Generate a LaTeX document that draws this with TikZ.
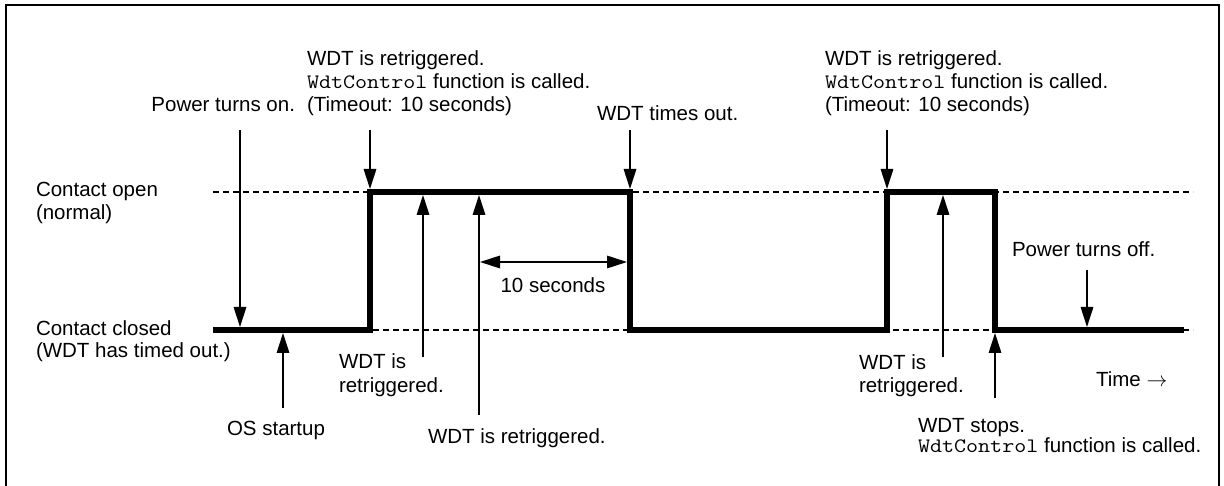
\documentclass[tikz,border=0pt]{standalone}
\usepackage{fontspec}
\usepackage{graphicx}
\setmainfont{Liberation Sans}
\usetikzlibrary{arrows.meta}
\newcommand\wdcname{\scalebox{1.14}[1]{\ttfamily WdtControl}}
\begin{document}
\begin{tikzpicture}[x=1pt,y=-1pt,
  lbl/.style={inner sep=0pt, outer sep=0pt, font=\fontsize{20.5}{23}\selectfont},
  sig/.style={line width=5.5pt, line join=miter},
  refline/.style={line width=1.3pt, dash pattern=on 6pt off 4pt},
  ptr/.style={line width=1.6pt, -{Triangle[length=20pt,width=12.5pt]}},
  dptr/.style={line width=1.6pt, {Triangle[length=20pt,width=12.5pt]}-{Triangle[length=20pt,width=12.5pt]}},
  frame/.style={line width=1.5pt}
]
\useasboundingbox (0,0) rectangle (1224,486);
% frame (open at the bottom)
\coordinate (fbl) at (6,486);
\coordinate (ftl) at (6,5);
\coordinate (ftr) at (1219,5);
\coordinate (fbr) at (1219,486);
\draw[frame] (fbl) -- (ftl) -- (ftr) -- (fbr);

% reference levels
\coordinate (ol) at (213,192); \coordinate (or) at (1193,192);
\coordinate (cl) at (213,330); \coordinate (cr) at (1193,330);
\draw[refline] (ol) -- (or);
\draw[refline] (cl) -- (cr);

% signal
\coordinate (s0) at (213,330);
\coordinate (s1) at (370,330);
\coordinate (s2) at (370,192);
\coordinate (s3) at (630,192);
\coordinate (s4) at (630,330);
\coordinate (s5) at (887,330);
\coordinate (s6) at (887,192);
\coordinate (s7) at (995,192);
\coordinate (s8) at (995,330);
\coordinate (s9) at (1184,330);
\draw[sig] (s0) -- (s1) -- (s2) -- (s3) -- (s4) -- (s5) -- (s6) -- (s7) -- (s8) -- (s9);

% level labels
\node[lbl, anchor=base west] (lopen1) at (36,197) {Contact open};
\node[lbl, anchor=base west] (lopen2) at (36,220) {(normal)};
\node[lbl, anchor=base west] (lclosed1) at (36,336) {Contact closed};
\node[lbl, anchor=base west] (lclosed2) at (36,358) {(WDT has timed out.)};

% top labels
\node[lbl, anchor=base east] (pon) at (295,112) {Power turns on.};
\node[lbl, anchor=base west] (rt1a) at (307,66) {WDT is retriggered.};
\node[lbl, anchor=base west] (rt1b) at (307,89) {\wdcname{} function is called.};
\node[lbl, anchor=base west] (rt1c) at (307,112) {(Timeout: 10 seconds)};
\node[lbl, anchor=base west] (tout) at (597,121) {WDT times out.};
\node[lbl, anchor=base west] (rt2a) at (825,66) {WDT is retriggered.};
\node[lbl, anchor=base west] (rt2b) at (825,89) {\wdcname{} function is called.};
\node[lbl, anchor=base west] (rt2c) at (825,112) {(Timeout: 10 seconds)};

% middle / bottom labels
\node[lbl, anchor=base] (ten) at (553,293) {10 seconds};
\node[lbl, anchor=base west] (rl1a) at (339,369) {WDT is};
\node[lbl, anchor=base west] (rl1b) at (339,392) {retriggered.};
\node[lbl, anchor=base west] (os) at (227,435) {OS startup};
\node[lbl, anchor=base west] (rl2) at (428,443) {WDT is retriggered.};
\node[lbl, anchor=base west] (rr1a) at (859,370) {WDT is};
\node[lbl, anchor=base west] (rr1b) at (859,392) {retriggered.};
\node[lbl, anchor=base west] (time) at (1096,386) {Time $\rightarrow$};
\node[lbl, anchor=base west] (stop1) at (918,432) {WDT stops.};
\node[lbl, anchor=base west] (stop2) at (918,452) {\wdcname{} function is called.};
\node[lbl, anchor=base west] (poff) at (1012,257) {Power turns off.};

% arrows
\coordinate (aPonS) at (240,130); \coordinate (aPonE) at (240,327);
\coordinate (aR1S) at (370,130);  \coordinate (aR1E) at (370,189);
\coordinate (aToS) at (630,130);  \coordinate (aToE) at (630,189);
\coordinate (aR2S) at (887,130);  \coordinate (aR2E) at (887,189);
\coordinate (aU1S) at (423,357);  \coordinate (aU1E) at (423,195);
\coordinate (aU2S) at (479,415);  \coordinate (aU2E) at (479,195);
\coordinate (aOsS) at (283,408);  \coordinate (aOsE) at (283,333);
\coordinate (aU3S) at (943,357);  \coordinate (aU3E) at (943,195);
\coordinate (aStS) at (995,398);  \coordinate (aStE) at (995,333);
\coordinate (aPoS) at (1087,270); \coordinate (aPoE) at (1087,327);
\coordinate (tenL) at (480,262);  \coordinate (tenR) at (627,262);

\draw[ptr] (aPonS) -- (aPonE);
\draw[ptr] (aR1S) -- (aR1E);
\draw[ptr] (aToS) -- (aToE);
\draw[ptr] (aR2S) -- (aR2E);
\draw[ptr] (aU1S) -- (aU1E);
\draw[ptr] (aU2S) -- (aU2E);
\draw[ptr] (aOsS) -- (aOsE);
\draw[ptr] (aU3S) -- (aU3E);
\draw[ptr] (aStS) -- (aStE);
\draw[ptr] (aPoS) -- (aPoE);
\draw[dptr] (tenL) -- (tenR);
\end{tikzpicture}
\end{document}
